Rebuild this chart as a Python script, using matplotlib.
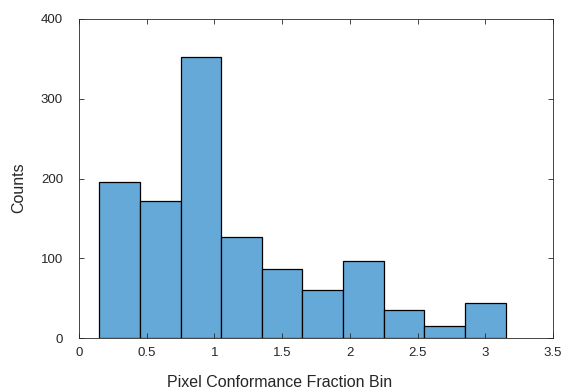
import matplotlib
matplotlib.use("Agg")
import matplotlib.pyplot as plt
import numpy as np

plt.rcParams['font.family'] = ['Liberation Sans', 'DejaVu Sans']

# histogram bins (width 0.3) and counts per bin
bin_edges = [0.15, 0.45, 0.75, 1.05, 1.35, 1.65, 1.95, 2.25, 2.55, 2.85, 3.15]
counts = [196, 172, 352, 127, 87, 60, 97, 36, 15, 44]
xticks = [0, 0.5, 1, 1.5, 2, 2.5, 3, 3.5]
xticklabels = ["0", "0.5", "1", "1.5", "2", "2.5", "3", "3.5"]
yticks = [0, 100, 200, 300, 400]

fig = plt.figure(figsize=(5.61, 3.89), dpi=100)
ax = fig.add_axes([0.1408, 0.1303, 0.8449, 0.8209])

edges = np.array(bin_edges)
ax.bar(edges[:-1], counts, width=np.diff(edges), align="edge",
       color="#64a9d7", edgecolor="black", linewidth=0.9)

ax.set_xlim(0, 3.5)
ax.set_ylim(0, 400)
ax.set_xticks(xticks)
ax.set_xticklabels(xticklabels)
ax.set_yticks(yticks)

axcol = "#262626"
for s in ax.spines.values():
    s.set_color(axcol)
    s.set_linewidth(0.6)
ax.tick_params(direction="in", top=True, right=True, length=3.5, width=0.6,
               color=axcol, labelcolor=axcol, labelsize=9.5)
ax.tick_params(axis="x", pad=6.5)
ax.tick_params(axis="y", pad=11.5)

ax.set_xlabel("Pixel Conformance Fraction Bin", fontsize=11.5, color=axcol, va="baseline")
ax.xaxis.set_label_coords(0.423, -0.151)
ax.set_ylabel("Counts", fontsize=11.5, color=axcol, va="baseline")
ax.yaxis.set_label_coords(-0.118, 0.4707)

fig.savefig("out.png", dpi=100)
